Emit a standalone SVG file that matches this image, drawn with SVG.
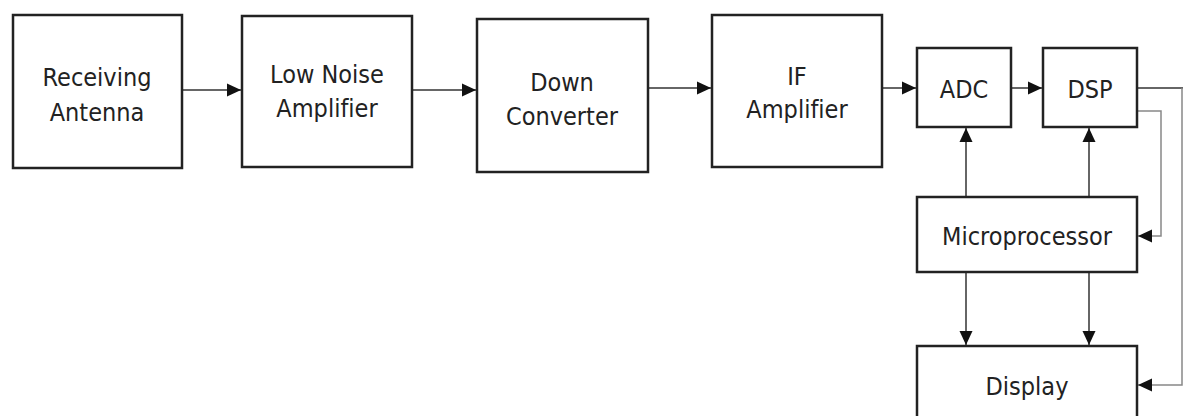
<svg xmlns="http://www.w3.org/2000/svg" width="1183" height="416" viewBox="0 0 1183 416">
<style>
.box{fill:#fff;stroke:#222;stroke-width:2.5}
.t{font-family:"DejaVu Sans Condensed","DejaVu Sans",sans-serif;font-stretch:condensed;font-size:25px;fill:#222;text-anchor:middle;font-variant-ligatures:none}
.c{fill:none;stroke:#333;stroke-width:1.5}
.g{fill:none;stroke:#888;stroke-width:1.5}
</style>
<defs>
<marker id="ah" viewBox="0 0 14 14" refX="14" refY="7" markerWidth="14" markerHeight="14" markerUnits="userSpaceOnUse" orient="auto">
<path d="M0,0.5 L14,7 L0,13.5 Z" fill="#111"/>
</marker>
</defs>
<rect width="1183" height="416" fill="#fff"/>
<g id="connectors">
<line class="c" x1="182" y1="90" x2="241" y2="90" marker-end="url(#ah)"/>
<line class="c" x1="412" y1="90" x2="476" y2="90" marker-end="url(#ah)"/>
<line class="c" x1="648" y1="88" x2="711" y2="88" marker-end="url(#ah)"/>
<line class="c" x1="882" y1="88" x2="916" y2="88" marker-end="url(#ah)"/>
<line class="c" x1="1011" y1="88" x2="1042" y2="88" marker-end="url(#ah)"/>
<line class="c" x1="966" y1="197" x2="966" y2="128" marker-end="url(#ah)"/>
<line class="c" x1="1089" y1="197" x2="1089" y2="128" marker-end="url(#ah)"/>
<line class="c" x1="966" y1="272" x2="966" y2="345" marker-end="url(#ah)"/>
<line class="c" x1="1089" y1="272" x2="1089" y2="345" marker-end="url(#ah)"/>
<polyline class="c" points="1138,88 1183,88"/>
<polyline class="g" points="1182,88 1182,385 1138,385" marker-end="url(#ah)"/>
<polyline class="g" points="1138,111 1161,111 1161,236 1138,236" marker-end="url(#ah)"/>
</g>
<g id="receiving-antenna">
<rect class="box" x="13" y="15" width="169" height="153"/>
<text class="t" x="97" y="86">Receiving</text>
<text class="t" x="97" y="121">Antenna</text>
</g>
<g id="low-noise-amplifier">
<rect class="box" x="242" y="16" width="170" height="151"/>
<text class="t" x="327" y="83">Low Noise</text>
<text class="t" x="327" y="117">Amplifier</text>
</g>
<g id="down-converter">
<rect class="box" x="477" y="19" width="171" height="153"/>
<text class="t" x="562" y="91">Down</text>
<text class="t" x="562" y="125">Converter</text>
</g>
<g id="if-amplifier">
<rect class="box" x="712" y="15" width="170" height="152"/>
<text class="t" x="797" y="85">IF</text>
<text class="t" x="797" y="118">Amplifier</text>
</g>
<g id="adc">
<rect class="box" x="917" y="48" width="94" height="79"/>
<text class="t" x="964" y="98">ADC</text>
</g>
<g id="dsp">
<rect class="box" x="1043" y="48" width="94" height="79"/>
<text class="t" x="1090" y="98">DSP</text>
</g>
<g id="microprocessor">
<rect class="box" x="917" y="197" width="220" height="75"/>
<text class="t" x="1027" y="245">Microprocessor</text>
</g>
<g id="display">
<rect class="box" x="917" y="346" width="220" height="90"/>
<text class="t" x="1027" y="395">Display</text>
</g>
</svg>
